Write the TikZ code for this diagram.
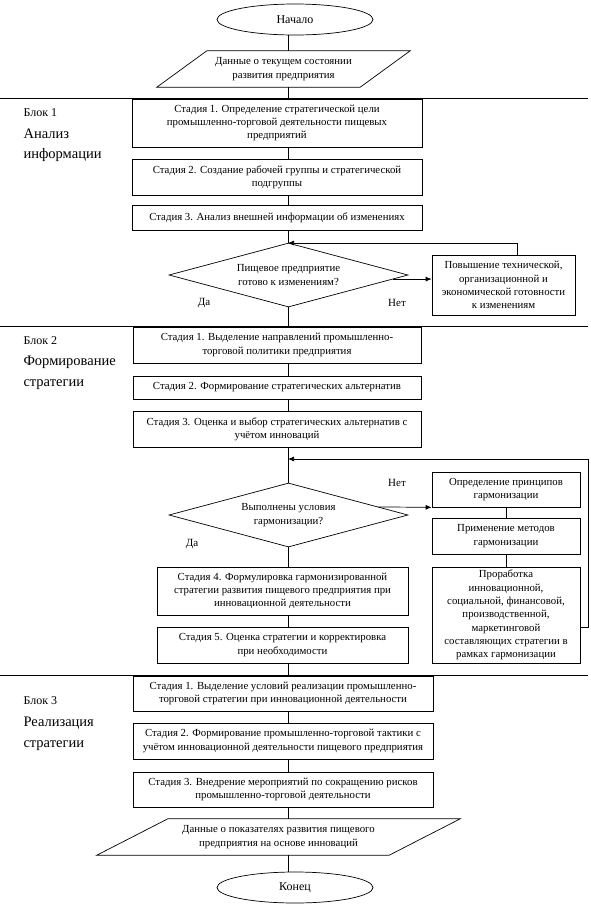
\documentclass[tikz,border=0pt]{standalone}
\usepackage{fontspec}
\setmainfont{Liberation Serif}
\usetikzlibrary{arrows.meta,calc,shapes.geometric}
\tikzset{
    box/.style={draw, line width=0.7pt, inner sep=0pt, align=center,
                font=\fontsize{10.8}{13.3}\selectfont},
    io/.style={inner sep=0pt, align=center,
               font=\fontsize{10.8}{13.3}\selectfont},
    terminal/.style={box, ellipse, font=\fontsize{12}{14}\selectfont},
    choice/.style={box, diamond, aspect=3.7},
    line/.style={line width=0.7pt},
    flow/.style={-{Latex[length=6pt,width=5pt]}, line width=0.7pt},
    note/.style={font=\fontsize{11}{13}\selectfont},
    blocknum/.style={anchor=west, font=\fontsize{12}{14}\selectfont},
    blockname/.style={anchor=west, align=left,
                      font=\fontsize{14.5}{20.5}\selectfont},
}

\begin{document}
\begin{tikzpicture}[x=1pt, y=-1pt]
    \useasboundingbox (0,0) rectangle (590,906);
    \coordinate (axis) at (288,0);

    % start and input data
    \node[terminal, minimum width=156, minimum height=31] (start) at (295,19.5) {Начало};
    \node[io, minimum width=253, minimum height=36] (state) at (283.5,69)
        {Данные о текущем состоянии\\развития предприятия};
    \draw[line] ([xshift=50]state.north west) -- (state.north east)
        -- ([xshift=-50]state.south east) -- (state.south west) -- cycle;

    % block separators
    \foreach \y in {98,326,675}
        \draw[line] (0,\y) -- (588,\y);

    % block 1
    \node[blocknum] (b1) at (20,113) {Блок 1};
    \node[blockname] (b1name) at (20,145.5) {Анализ\\информации};
    \node[box, minimum width=290, minimum height=48] (s11) at (277,123)
        {Стадия 1. Определение стратегической цели\\промышленно-торговой деятельности пищевых\\предприятий};
    \node[box, minimum width=290, minimum height=36] (s12) at (277,177)
        {Стадия 2. Создание рабочей группы и стратегической\\подгруппы};
    \node[box, minimum width=290, minimum height=25] (s13) at (277,217.5)
        {Стадия 3. Анализ внешней информации об изменениях};
    \node[choice, minimum width=239, minimum height=64] (d1) at (288.5,275)
        {Пищевое предприятие\\готово к изменениям?};
    \node[box, minimum width=143, minimum height=60] (ready) at (503.5,285)
        {Повышение технической,\\организационной и\\экономической готовности\\к изменениям};
    \node[note] (yes1) at (204,303) {Да};
    \node[note] (no1) at (397,303) {Нет};

    % block 2
    \node[blocknum] (b2) at (20,341) {Блок 2};
    \node[blockname] (b2name) at (20,373) {Формирование\\стратегии};
    \node[box, minimum width=288, minimum height=36] (s21) at (277,345)
        {Стадия 1. Выделение направлений промышленно-\\торговой политики предприятия};
    \node[box, minimum width=288, minimum height=23] (s22) at (277,387.5)
        {Стадия 2. Формирование стратегических альтернатив};
    \node[box, minimum width=288, minimum height=36] (s23) at (277,429)
        {Стадия 3. Оценка и выбор стратегических альтернатив с\\учётом инноваций};
    \node[choice, minimum width=239, minimum height=64] (d2) at (288.5,515)
        {Выполнены условия\\гармонизации?};
    \node[note] (yes2) at (192,544) {Да};
    \node[note] (no2) at (397,483) {Нет};
    \node[box, minimum width=148, minimum height=35] (h1) at (506,489.5)
        {Определение принципов\\гармонизации};
    \node[box, minimum width=148, minimum height=36] (h2) at (506,536)
        {Применение методов\\гармонизации};
    \node[box, minimum width=148, minimum height=96] (h3) at (506,615)
        {Проработка\\инновационной,\\социальной, финансовой,\\производственной,\\маркетинговой\\составляющих стратегии в\\рамках гармонизации};
    \node[box, minimum width=251, minimum height=48] (s24) at (282.5,591)
        {Стадия 4. Формулировка гармонизированной\\стратегии развития пищевого предприятия при\\инновационной деятельности};
    \node[box, minimum width=251, minimum height=36] (s25) at (282.5,645)
        {Стадия 5. Оценка стратегии и корректировка\\при необходимости};

    % block 3
    \node[blocknum] (b3) at (20,701) {Блок 3};
    \node[blockname] (b3name) at (20,734) {Реализация\\стратегии};
    \node[box, minimum width=300, minimum height=35] (s31) at (283,693.5)
        {Стадия 1. Выделение условий реализации промышленно-\\торговой стратегии при инновационной деятельности};
    \node[box, minimum width=300, minimum height=36] (s32) at (283,741)
        {Стадия 2. Формирование промышленно-торговой тактики с\\учётом инновационной деятельности пищевого предприятия};
    \node[box, minimum width=300, minimum height=35] (s33) at (283,789.5)
        {Стадия 3. Внедрение мероприятий по сокращению рисков\\промышленно-торговой деятельности};

    % output data and end
    \node[io, minimum width=363, minimum height=36] (result) at (278.5,837)
        {Данные о показателях развития пищевого\\предприятия на основе инноваций};
    \draw[line] ([xshift=71]result.north west) -- (result.north east)
        -- ([xshift=-71]result.south east) -- (result.south west) -- cycle;
    \node[terminal, minimum width=156, minimum height=31] (finish) at (295,887.5) {Конец};

    % main line
    \foreach \a/\b in {start/state, state/s11, s11/s12, s12/s13, s13/d1,
                       d1/s21, s21/s22, s22/s23, s23/d2, d2/s24, s24/s25,
                       s25/s31, s31/s32, s32/s33, s33/result, result/finish}
        \draw[line] (\a.south -| axis) -- (\b.north -| axis);

    % readiness loop
    \coordinate (d1out) at ($(d1.east)!0.125!(d1.south)$);
    \coordinate (back1) at (288,243);
    \draw[flow] (d1out) -- (d1out -| ready.west);
    \draw[flow] ([xshift=14]ready.north) |- (back1);

    % harmonization loop
    \coordinate (back2) at (288,459);
    \draw[flow] ($(d2.east)!0.25!(d2.north)$) -- (h1.south west);
    \draw[line] (h1) -- (h2);
    \draw[line] (h2) -- (h3);
    \draw[flow] ([yshift=-12]h3.east) -- ++(8,0) |- (back2);

\end{tikzpicture}
\end{document}
